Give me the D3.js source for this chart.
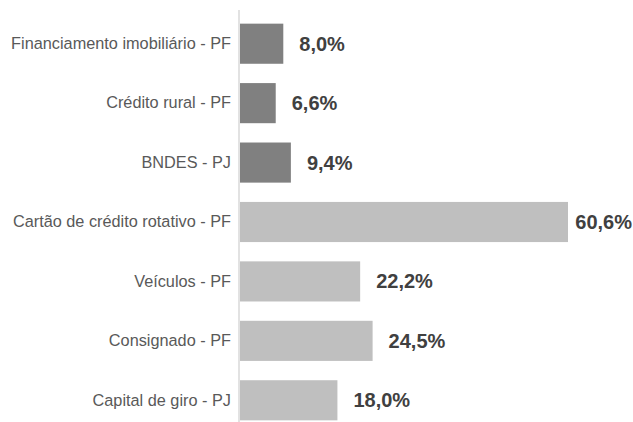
<!DOCTYPE html>
<html>
<head>
<meta charset="utf-8">
<script src="https://d3js.org/d3.v7.min.js"></script>
<style>
  body { margin: 0; background: #fff; }
</style>
</head>
<body>
<div id="chart"></div>
<script>
// Data
var categories = [
    "Financiamento imobiliário - PF",
    "Crédito rural - PF",
    "BNDES - PJ",
    "Cartão de crédito rotativo - PF",
    "Veículos - PF",
    "Consignado - PF",
    "Capital de giro - PJ"
];
var values = [8.0, 6.6, 9.4, 60.6, 22.2, 24.5, 18.0];
var groups = ["dir", "dir", "dir", "livre", "livre", "livre", "livre"];

var svgWidth = 633;
var svgHeight = 422;

var svg = d3.select("#chart")
    .append("svg")
    .attr("width", svgWidth)
    .attr("height", svgHeight);

var data = categories.map(function (c, i) {
    return { cat: c, value: values[i], group: groups[i] };
});

// Scales
var xScale = d3.scaleLinear()
    .domain([0, 60.6])
    .range([240, 568]);

var yScale = d3.scaleBand()
    .domain(categories)
    .range([14, 430])
    .paddingInner(0.325)
    .paddingOuter(0.1625);

var color = d3.scaleOrdinal()
    .domain(["dir", "livre"])
    .range(["#808080", "#bfbfbf"]);

// Bars
svg.selectAll("rect.bar")
    .data(data)
    .enter()
    .append("rect")
    .attr("class", "bar")
    .attr("x", xScale(0))
    .attr("y", d => yScale(d.cat))
    .attr("width", d => xScale(d.value) - xScale(0))
    .attr("height", yScale.bandwidth())
    .attr("fill", d => color(d.group));

// Vertical axis line
var leftAxis = d3.axisLeft(yScale).tickSize(0).tickPadding(8);
var axisG = svg.append("g")
    .attr("transform", `translate(${xScale(0) - 1}, 0)`)
    .call(leftAxis);

axisG.select(".domain")
    .attr("d", "M0,10V422")
    .attr("stroke", "#d9d9d9")
    .attr("stroke-width", 1.5);

axisG.selectAll("text")
    .attr("font-family", "Liberation Sans, Arial, sans-serif")
    .attr("font-size", "16.3px")
    .attr("fill", "#595959");

// Value labels
var fmt = d => d.toFixed(1).replace(".", ",") + "%";
svg.append("g").selectAll("text")
    .data(data)
    .enter()
    .append("text")
    .attr("x", d => xScale(d.value) + 16)
    .attr("y", d => yScale(d.cat) + yScale.bandwidth() / 2)
    .attr("dy", ".35em")
    .attr("font-family", "Liberation Sans, Arial, sans-serif")
    .attr("font-size", "20px")
    .attr("font-weight", "700")
    .attr("fill", "#404040")
    .text(d => fmt(d.value))
    .each(function () {
        // keep the label inside the picture
        var w = this.getComputedTextLength();
        var x = +d3.select(this).attr("x");
        if (x + w > svgWidth - 1) {
            d3.select(this).attr("x", svgWidth - 1 - w);
        }
    });
</script>
</body>
</html>
